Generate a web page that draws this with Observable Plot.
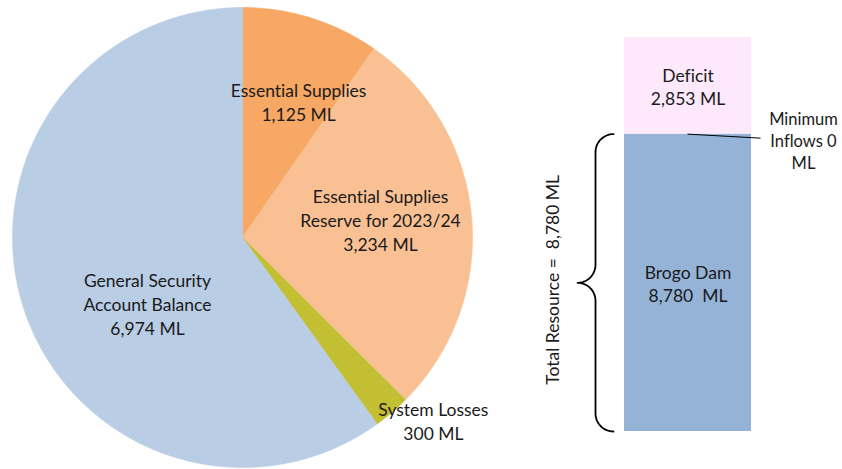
<!DOCTYPE html>
<html><head><meta charset="utf-8">
<script src="https://cdn.jsdelivr.net/npm/d3@7"></script>
<script src="https://cdn.jsdelivr.net/npm/@observablehq/plot@0.6"></script>
<style>
body{margin:0;background:#fff;}
#wrap{position:relative;width:842px;height:469px;font-family:Lato,sans-serif;}
#wrap svg text{font-variant-ligatures:none;font-feature-settings:"liga" 0,"clig" 0;}
#pie{position:absolute;left:0;top:0;}
#bar{position:absolute;left:484px;top:0;}
</style></head><body><div id="wrap"><div id="pie"></div><div id="bar"></div></div>
<script>
// ---- Pie data ----
const pieNames = ["Essential Supplies", "Essential Supplies Reserve for 2023/24", "System Losses", "General Security Account Balance"];
const pieLabels = ["Essential Supplies\n1,125 ML", "Essential Supplies\nReserve for 2023/24\n3,234 ML", "System Losses\n300 ML", "General Security\nAccount Balance\n6,974 ML"];
const pieValues = [1125, 3234, 300, 6974];
const pieColors = ["#F6A864", "#F9C193", "#C3BF32", "#B9CDE5"];
// label placement (layout): polar angle (deg clockwise from top) and radius fraction
const pieLabelAngle = [22.4, 82.6, 133.8, 235.2];
const pieLabelRadius = [0.64, 0.605, 1.15, 0.503];

// ---- Bar data ----
const barNames = ["Brogo Dam", "Minimum Inflows", "Deficit"];
const barValues = [8780, 0, 2853];
const barLabels = ["Brogo Dam\n8,780  ML", "Minimum\nInflows 0\nML", "Deficit\n2,853 ML"];
const barColors = ["#95B3D7", "#C0C0C0", "#FDE9FB"];
const totalLabel = "Total Resource =  8,780 ML";

const textColor = "#1a1a1a";
const font = "Lato, sans-serif";
const fs = 17.5;

// ---- Pie chart ----
const arcs = d3.pie().sort(null).value(d => d)(pieValues);
const pieMarks = arcs.map((a, i) => {
  const pts = [{x: 0, y: 0}];
  const n = Math.max(4, Math.ceil((a.endAngle - a.startAngle) / 0.005));
  for (let k = 0; k <= n; k++) {
    const t = a.startAngle + (a.endAngle - a.startAngle) * k / n;
    pts.push({x: Math.sin(t), y: Math.cos(t)});
  }
  pts.push({x: 0, y: 0});
  return Plot.line(pts, {x: "x", y: "y", fill: pieColors[i], stroke: pieColors[i], strokeWidth: 0.6, curve: "linear"});
});
const pieLabelData = pieLabels.map((t, i) => {
  const ang = pieLabelAngle[i] * Math.PI / 180;
  return {text: t, x: pieLabelRadius[i] * Math.sin(ang), y: pieLabelRadius[i] * Math.cos(ang)};
});
const pie = Plot.plot({
  width: 484, height: 469,
  x: {domain: [-1, 1], range: [12, 472], axis: null},
  y: {domain: [-1, 1], range: [467, 7], axis: null},
  style: {fontFamily: font, background: "transparent", overflow: "visible"},
  marks: [
    ...pieMarks,
    Plot.text(pieLabelData, {x: "x", y: "y", text: "text", fontSize: fs, lineHeight: 24 / fs, fill: textColor})
  ]
});
document.getElementById("pie").appendChild(pie);

// ---- Stacked bar ----
const total = d3.sum(barValues);
const ends = d3.cumsum(barValues);
const barData = barNames.map((n, i) => ({name: n, label: barLabels[i], value: barValues[i], y1: ends[i] - barValues[i], y2: ends[i]}));
const yTop = 37, yBot = 431, xL = 140, xR = 267;
const pxY = (yBot - yTop) / total, pxX = (xR - xL);
const resource = barValues[0] + barValues[1];
const mid = resource / 2;

// brace (decorative) built from pixel offsets converted to data units
function arc(cx, cy, r, a0, a1) {
  const out = [];
  for (let k = 0; k <= 16; k++) {
    const t = (a0 + (a1 - a0) * k / 16) * Math.PI / 180;
    out.push({x: (cx + r * Math.cos(t)) / pxX, y: cy + r * Math.sin(t) / pxY});
  }
  return out;
}
const R = 18, xEnd = -11, xLine = -29, xTip = -47;
const brace = [
  ...arc(xEnd, resource - R / pxY, R, 90, 180),
  ...arc(xTip, mid + R / pxY, R, 0, -90),
  ...arc(xTip, mid - R / pxY, R, 90, 0),
  ...arc(xEnd, 0 + R / pxY, R, 180, 270)
];

const inflowTop = ends[1];
const bar = Plot.plot({
  width: 358, height: 469,
  x: {domain: [0, 1], range: [xL, xR], axis: null},
  y: {domain: [0, total], range: [yBot, yTop], axis: null},
  color: {domain: barNames, range: barColors},
  style: {fontFamily: font, background: "transparent", overflow: "visible"},
  marks: [
    Plot.rect(barData.filter(d => d.value > 0), {x1: () => 0, x2: () => 1, y1: "y1", y2: "y2", fill: "name"}),
    Plot.text(barData.filter(d => d.value > 0), {x: () => 0.5, y: d => (d.y1 + d.y2) / 2, text: "label", fontSize: fs, lineHeight: 24 / fs, fill: textColor}),
    Plot.line(brace, {x: "x", y: "y", stroke: "#000", strokeWidth: 1.8, curve: "linear"}),
    Plot.text([totalLabel], {x: () => -71 / pxX, y: () => mid + 3 / pxY, text: d => d, rotate: -90, fontSize: fs, fill: textColor}),
    Plot.link([barData[1]], {x1: () => 0.496, y1: () => inflowTop, x2: () => 136 / pxX, y2: () => inflowTop - 4 / pxY, stroke: "#000", strokeWidth: 1}),
    Plot.text([barData[1]], {x: () => 179 / pxX, y: () => inflowTop - 6 / pxY, text: "label", fontSize: 16.5, lineHeight: 22 / 16.5, fill: textColor})
  ]
});
document.getElementById("bar").appendChild(bar);
</script>
</body></html>
